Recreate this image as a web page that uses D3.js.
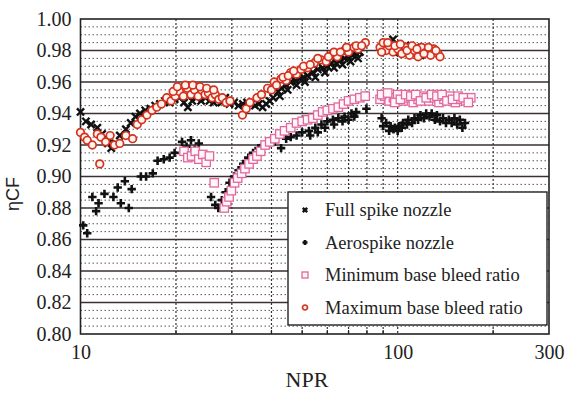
<!DOCTYPE html>
<html>
<head>
    <script src="https://d3js.org/d3.v7.min.js"></script>
    <style>
        body, html { margin: 0; background: #fff; overflow: hidden; }
        svg { display: block; }
    </style>
</head>
<body>
<div id="chart"></div>
<script>
    // NPR, eta_CF pairs
    const fullSpike = [
        [10.0,0.941],[10.4,0.935],[10.8,0.933],[11.3,0.931],[11.7,0.927],[12.2,0.921],[12.5,0.918],[12.9,0.921],[13.3,0.926],
        [13.9,0.930],[14.4,0.934],[14.9,0.938],[15.4,0.940],[16.0,0.942],[16.6,0.943],[17.2,0.945],[17.8,0.946],[18.5,0.948],
        [19.1,0.947],[19.8,0.949],[20.5,0.950],[21.2,0.947],[21.8,0.944],[22.5,0.948],[23.2,0.950],[24.0,0.948],[24.8,0.950],
        [25.5,0.948],[26.3,0.947],[27.0,0.949],[27.8,0.947],[28.6,0.950],[29.5,0.946],[30.5,0.947],[31.5,0.945],[32.5,0.946],
        [33.5,0.947],[34.5,0.946],[35.5,0.945],[36.5,0.946],[37.5,0.944],[38.5,0.946],[39.5,0.948],[40.5,0.950],[42.0,0.954],
        [43.0,0.956],[44.5,0.958],[46.0,0.960],[47.5,0.961],[49.0,0.962],[50.5,0.963],[52.0,0.964],[54.0,0.966],[56.0,0.968],
        [58.0,0.969],[60.0,0.970],[62.0,0.972],[64.0,0.972],[66.0,0.974],[68.0,0.975],[70.0,0.976],[72.0,0.977],[74.0,0.978],
        [76.0,0.979],[96.7,0.987],[100,0.982],[103,0.981],[106,0.983],[109,0.980],[112,0.981],[116,0.979],[120,0.980],[125,0.979],
        [42.5,0.951],[45.0,0.955],[48.0,0.958],[51.0,0.960],[55.0,0.963],[59.0,0.966],[63.0,0.969],[67.0,0.971],[71.0,0.973],
        [75.0,0.975],[101,0.979],[105,0.978],[110,0.983],[114,0.982],[118,0.977],[122,0.981]
    ];
    const aerospike = [
        [10.2,0.869],[10.5,0.864],[10.9,0.887],[11.2,0.878],[11.4,0.883],[11.9,0.889],[12.7,0.887],[13.1,0.893],[13.4,0.883],
        [13.8,0.897],[14.2,0.880],[14.5,0.892],[15.5,0.900],[16.1,0.900],[16.9,0.902],[17.5,0.910],[18.3,0.911],[19.1,0.912],
        [19.8,0.915],[20.9,0.922],[21.6,0.919],[22.3,0.923],[22.9,0.917],[23.6,0.921],[25.8,0.887],[26.6,0.882],[27.2,0.880],
        [27.9,0.885],[28.7,0.890],[29.5,0.896],[30.5,0.900],[31.5,0.904],[32.6,0.908],[33.8,0.912],[35.0,0.915],[36.4,0.918],
        [37.8,0.920],[39.3,0.921],[41.0,0.922],[42.9,0.918],[44.5,0.924],[46.0,0.925],[48.0,0.926],[50.0,0.928],[52.5,0.929],
        [55.0,0.931],[57.5,0.933],[60.0,0.935],[62.5,0.936],[65.0,0.937],[68.0,0.938],[71.5,0.940],[74.0,0.941],[79.7,0.943],
        [89,0.937],[92,0.934],[95,0.932],[98,0.931],[101,0.932],[104,0.934],[108,0.936],[113,0.937],[118,0.939],[123,0.940],
        [128,0.940],[133,0.939],[139,0.937],[145,0.936],[151,0.937],[157,0.936],[163,0.934],
        [53,0.926],[56,0.928],[59,0.931],[63,0.933],[67,0.935],[70,0.936],[73,0.938],
        [90,0.932],[94,0.929],[97,0.930],[100,0.929],[103,0.931],[107,0.933],[111,0.934],[116,0.936],[121,0.937],[126,0.938],
        [131,0.936],[136,0.935],[142,0.934],[148,0.934],[154,0.933],[160,0.931]
    ];
    const minBleed = [
        [21.2,0.916],[21.8,0.912],[22.4,0.913],[23.0,0.916],[23.6,0.911],[24.3,0.914],[24.9,0.909],[25.5,0.913],[26.4,0.896],
        [28.4,0.880],[28.9,0.884],[29.4,0.887],[29.9,0.891],[30.6,0.896],[31.3,0.899],[32.2,0.902],[33.0,0.905],[34.0,0.908],
        [35.0,0.911],[36.0,0.913],[37.0,0.916],[38.2,0.920],[39.5,0.922],[41.0,0.924],[42.5,0.927],[44.0,0.929],[46.0,0.931],
        [48.0,0.934],[50.0,0.935],[52.0,0.936],[54.0,0.937],[56.0,0.939],[58.0,0.941],[60.0,0.942],[62.5,0.943],[65.0,0.944],
        [67.5,0.946],[70.0,0.948],[73.0,0.949],[76.0,0.950],[79.0,0.951],[88,0.949],[91,0.951],[94,0.948],[97,0.950],
        [100,0.952],[104,0.948],[108,0.950],[112,0.947],[116,0.949],[120,0.951],[125,0.948],[130,0.950],[135,0.947],
        [140,0.949],[146,0.951],[152,0.947],[158,0.949],[164,0.948],[170,0.950],
        [89,0.952],[93,0.953],[98,0.947],[102,0.949],[106,0.952],[110,0.951],[114,0.952],[118,0.948],[123,0.950],[128,0.952],
        [133,0.951],[138,0.952],[143,0.948],[149,0.949],[155,0.951],[161,0.950],[167,0.947]
    ];
    const maxBleed = [
        [10.0,0.928],[10.3,0.925],[10.5,0.923],[10.9,0.920],[11.3,0.927],[11.6,0.925],[12.0,0.922],[12.4,0.926],[12.8,0.920],
        [13.3,0.921],[13.9,0.926],[14.6,0.924],[11.5,0.908],[15.1,0.933],[15.6,0.936],[16.2,0.939],[16.8,0.942],[17.4,0.944],
        [18.0,0.946],[18.7,0.950],[19.3,0.948],[19.9,0.951],[20.5,0.954],[21.1,0.951],[21.7,0.956],[22.3,0.952],[22.9,0.955],
        [23.5,0.951],[24.1,0.955],[24.7,0.952],[25.3,0.953],[26.0,0.950],[26.6,0.952],[27.3,0.949],[28.0,0.950],[28.8,0.947],
        [29.6,0.948],[32.4,0.939],[33.3,0.943],[34.2,0.947],[36.0,0.950],[37.2,0.952],[38.9,0.956],[40.0,0.955],[40.8,0.960],
        [42.9,0.962],[44.5,0.961],[46.0,0.966],[48.0,0.965],[49.6,0.968],[52.0,0.969],[54.6,0.972],[57.4,0.974],[59.5,0.973],
        [61.8,0.977],[64.5,0.976],[67.9,0.980],[70.0,0.979],[72.8,0.982],[75.0,0.981],[79.1,0.985],[88,0.982],[90,0.985],
        [92,0.980],[94,0.983],[96.7,0.979],[100,0.981],[103,0.978],[106,0.982],[109,0.977],[113,0.980],[116,0.976],[119,0.982],
        [123,0.979],[127,0.977],[130,0.981],[134,0.978],[136,0.976],
        [19.6,0.954],[20.2,0.957],[21.4,0.958],[22.6,0.958],[23.8,0.957],[25.0,0.956],[26.3,0.955],
        [41.5,0.958],[43.5,0.963],[45.2,0.964],[47.0,0.967],[50.5,0.970],[53.0,0.971],[56.0,0.975],[60.5,0.976],[63.0,0.979],
        [66.0,0.979],[69.0,0.982],[74.0,0.983],[77.0,0.983],
        [89,0.979],[93,0.985],[98,0.983],[102,0.984],[107,0.980],[111,0.983],[115,0.981],[121,0.978],[125,0.982],[132,0.980]
    ];
    const yTicks = [0.80,0.82,0.84,0.86,0.88,0.90,0.92,0.94,0.96,0.98,1.00];
    const xTickLabels = [10,100,300];
    const xGridValues = [20,30,40,50,60,70,80,90,100,200];
    const legendLabels = ["Full spike nozzle","Aerospike nozzle","Minimum base bleed ratio","Maximum base bleed ratio"];

    const serif = "'Liberation Serif', 'DejaVu Serif', serif";
    const width = 569, height = 393;
    const plotLeft = 80.5, plotRight = 549, plotTop = 19, plotBottom = 334;

    const svg = d3.select("#chart").append("svg")
        .attr("width", width).attr("height", height);

    const x = d3.scaleLog().domain([10, 300]).range([plotLeft, plotRight]);
    const y = d3.scaleLinear().domain([0.80, 1.00]).range([plotBottom, plotTop]);

    // minor horizontal dotted grid, every 0.005
    const minorY = d3.range(0.805, 1.0, 0.005).filter(v => Math.abs(v * 50 - Math.round(v * 50)) > 1e-6);
    svg.append("g").selectAll("line").data(minorY).join("line")
        .attr("x1", plotLeft).attr("x2", plotRight)
        .attr("y1", d => y(d)).attr("y2", d => y(d))
        .attr("stroke", "#555").attr("stroke-width", 1)
        .attr("stroke-dasharray", "1.5,2.5");

    // vertical dotted grid
    svg.append("g").selectAll("line").data(xGridValues).join("line")
        .attr("x1", d => x(d)).attr("x2", d => x(d))
        .attr("y1", plotTop).attr("y2", plotBottom)
        .attr("stroke", "#333").attr("stroke-width", 1.2)
        .attr("stroke-dasharray", "2,2");

    // major horizontal grid
    svg.append("g").selectAll("line").data(yTicks.slice(1, -1)).join("line")
        .attr("x1", plotLeft).attr("x2", plotRight)
        .attr("y1", d => y(d)).attr("y2", d => y(d))
        .attr("stroke", "#3a3030").attr("stroke-width", 1.3);

    // frame
    svg.append("rect")
        .attr("x", plotLeft).attr("y", plotTop)
        .attr("width", plotRight - plotLeft).attr("height", plotBottom - plotTop)
        .attr("fill", "none").attr("stroke", "#222").attr("stroke-width", 1.6);

    // small inward ticks on the bottom axis
    const minorX = [20,30,40,50,60,70,80,90,200];
    svg.append("g").selectAll("line").data(minorX).join("line")
        .attr("x1", d => x(d)).attr("x2", d => x(d))
        .attr("y1", plotBottom).attr("y2", plotBottom - 4)
        .attr("stroke", "#222").attr("stroke-width", 1.2);

    // axes (labels only)
    const yAxis = d3.axisLeft(y).tickValues(yTicks).tickFormat(d3.format(".2f")).tickSize(0).tickPadding(9);
    const gy = svg.append("g").attr("transform", `translate(${plotLeft},0)`).call(yAxis);
    gy.attr("font-family", serif);
    gy.select(".domain").remove();
    gy.selectAll("text").style("font-family", serif).style("font-size", "20px").attr("fill", "#222");

    const xAxis = d3.axisBottom(x).tickValues(xTickLabels).tickFormat(d3.format("d")).tickSize(0).tickPadding(11);
    const gx = svg.append("g").attr("transform", `translate(0,${plotBottom})`).call(xAxis);
    gx.attr("font-family", serif);
    gx.select(".domain").remove();
    gx.selectAll("text").style("font-family", serif).style("font-size", "20px").attr("fill", "#222");

    svg.append("text")
        .attr("x", 307).attr("y", 387)
        .attr("text-anchor", "middle")
        .style("font-family", serif).style("font-size", "22px").attr("fill", "#222")
        .text("NPR");

    svg.append("text")
        .attr("transform", "translate(19,194) rotate(-90)")
        .attr("text-anchor", "middle")
        .style("font-family", "'Liberation Sans', Arial, sans-serif").style("font-size", "18px").attr("fill", "#222")
        .text("ηCF");

    // marker drawers
    function drawX(g, s) {
        g.append("path").attr("d", `M${-s},${-s}L${s},${s}M${s},${-s}L${-s},${s}`)
            .attr("stroke", "#111").attr("stroke-width", 2.4);
    }
    function drawPlus(g, s) {
        g.append("path").attr("d", `M${-s},0L${s},0M0,${-s}L0,${s}`)
            .attr("stroke", "#111").attr("stroke-width", 2.6);
    }
    function drawSquare(g, s) {
        g.append("rect").attr("x", -s).attr("y", -s).attr("width", 2 * s).attr("height", 2 * s)
            .attr("fill", "#fff6f8").attr("stroke", "#e2679f").attr("stroke-width", 1.3);
    }
    function drawCircle(g, s) {
        g.append("circle").attr("r", s)
            .attr("fill", "#fff3ee").attr("stroke", "#d4321f").attr("stroke-width", 1.7);
    }

    const series = [
        {data: fullSpike, draw: drawX, size: 3.6},
        {data: aerospike, draw: drawPlus, size: 4.2},
        {data: minBleed, draw: drawSquare, size: 4.2},
        {data: maxBleed, draw: drawCircle, size: 3.8}
    ];

    series.forEach(sr => {
        const g = svg.append("g");
        sr.data.forEach(d => {
            const m = g.append("g").attr("transform", `translate(${x(d[0])},${y(d[1])})`);
            sr.draw(m, sr.size);
        });
    });

    // legend
    const legend = svg.append("g").attr("transform", "translate(288,192)");
    legend.append("rect").attr("width", 259).attr("height", 133)
        .attr("fill", "#fff").attr("stroke", "#222").attr("stroke-width", 1.4);
    const legendMarkers = [
        {draw: drawX, size: 2.2}, {draw: drawPlus, size: 2.5},
        {draw: drawSquare, size: 3}, {draw: drawCircle, size: 2.5}
    ];
    legendLabels.forEach((label, i) => {
        const cy = 18 + i * 32.5;
        const m = legend.append("g").attr("transform", `translate(17,${cy})`);
        legendMarkers[i].draw(m, legendMarkers[i].size);
        legend.append("text")
            .attr("x", 37).attr("y", cy + 6)
            .style("font-family", serif).style("font-size", "18.5px").attr("fill", "#222")
            .text(label);
    });
</script>
</body>
</html>
